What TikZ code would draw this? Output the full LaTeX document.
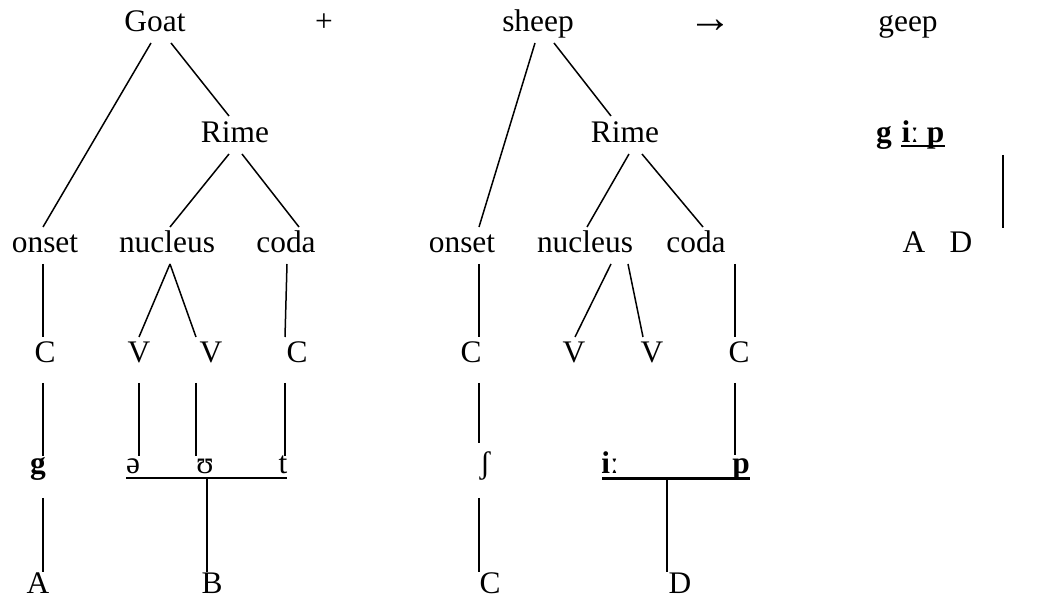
\documentclass[tikz,border=0pt]{standalone}
\usepackage{fontspec}
\setmainfont{Liberation Serif}
\usetikzlibrary{calc}
\newcommand\tfs{\fontsize{15.7}{19}\selectfont}
\tikzset{
  lbl/.style={anchor=base, inner sep=0pt, font=\tfs},
  blbl/.style={lbl, font=\tfs\bfseries},
  ln/.style={line width=0.75pt},
  thickln/.style={line width=1.5pt},
}
\begin{document}
\begin{tikzpicture}[x=0.5pt, y=-0.5pt]
\useasboundingbox (0,0) rectangle (1061,598);
% top row
\node[lbl] (goat) at (155,32) {Goat};
\node[lbl] (plus) at (324,32) {+};
\node[lbl] (sheep) at (538,32) {sheep};
\node[lbl, font=\fontsize{22}{26}\selectfont] (arrow) at (710,33) {→};
\node[lbl] (geep) at (908,32) {geep};
% left tree
\node[lbl] (rime1) at (235,143) {Rime};
\node[lbl] (onset1) at (45,253) {onset};
\node[lbl] (nucleus1) at (167,253) {nucleus};
\node[lbl] (coda1) at (286,253) {coda};
\node[lbl] (C1) at (45,363) {C};
\node[lbl] (V1) at (139,363) {V};
\node[lbl] (V2) at (211,363) {V};
\node[lbl] (C2) at (297,363) {C};
\node[blbl] (g) at (38,474) {g};
\node[lbl] (schwa) at (133,474) {ə};
\node[lbl] (ups) at (205,474) {ʊ};
\node[lbl] (t) at (283,474) {t};
\node[lbl] (A) at (38,594) {A};
\node[lbl] (B) at (212,594) {B};
% right tree
\node[lbl] (rime2) at (625,143) {Rime};
\node[lbl] (onset2) at (462,253) {onset};
\node[lbl] (nucleus2) at (585,253) {nucleus};
\node[lbl] (coda2) at (696,253) {coda};
\node[lbl] (C3) at (471,363) {C};
\node[lbl] (V3) at (574,363) {V};
\node[lbl] (V4) at (652,363) {V};
\node[lbl] (C4) at (739,363) {C};
\node[lbl] (esh) at (485,474) {ʃ};
\node[blbl] (ii) at (610,474) {iː};
\node[blbl] (p) at (741,474) {p};
\node[lbl] (C5) at (490,594) {C};
\node[lbl] (D) at (680,594) {D};
% far right
\node[blbl] (gg) at (884,143) {g};
\node[blbl] (ip) at (923,143) {iː p};
\node[lbl] (A2) at (914,253) {A};
\node[lbl] (D2) at (961,253) {D};
\coordinate (bartop) at (1003,155);
\coordinate (barbot) at (1003,228);

% left tree connectors
\draw[ln] ($(goat.base)+(-4,11)$) -- ($(onset1.base)+(-2,-26)$);
\draw[ln] ($(goat.base)+(16,11)$) -- ($(rime1.base)+(-6,-27)$);
\draw[ln] ($(rime1.base)+(-6,11)$) -- ($(nucleus1.base)+(3,-26)$);
\draw[ln] ($(rime1.base)+(7,11)$) -- ($(coda1.base)+(13,-26)$);
\draw[ln] ($(onset1.base)+(-2,11)$) -- ($(C1.base)+(-2,-26)$);
\draw[ln] ($(nucleus1.base)+(3,11)$) -- ($(V1.base)+(0,-26)$);
\draw[ln] ($(nucleus1.base)+(3,11)$) -- ($(V2.base)+(-15,-26)$);
\draw[ln] ($(coda1.base)+(1,11)$) -- ($(C2.base)+(-12,-26)$);
\draw[ln] ($(C1.base)+(-2,20)$) -- ($(g.base)+(5,-18)$);
\draw[ln] ($(V1.base)+(0,20)$) -- ($(schwa.base)+(6,-18)$);
\draw[ln] ($(V2.base)+(-15,20)$) -- ($(ups.base)+(-9,-18)$);
\draw[ln] ($(C2.base)+(-12,20)$) -- ($(t.base)+(2,-18)$);
\draw[ln] ($(g.base)+(5,24)$) -- ($(A.base)+(5,-22)$);
\draw[ln] ($(schwa.base)+(-7,4)$) -- ($(t.base)+(4,4)$);
\draw[ln] ($(ups.base)+(2,5)$) -- ($(B.base)+(-5,-22)$);

% right tree connectors
\draw[ln] ($(sheep.base)+(-3,11)$) -- ($(onset2.base)+(17,-26)$);
\draw[ln] ($(sheep.base)+(16,11)$) -- ($(rime2.base)+(-14,-27)$);
\draw[ln] ($(rime2.base)+(4,11)$) -- ($(nucleus2.base)+(2,-26)$);
\draw[ln] ($(rime2.base)+(17,11)$) -- ($(coda2.base)+(7,-26)$);
\draw[ln] ($(onset2.base)+(17,11)$) -- ($(C3.base)+(8,-26)$);
\draw[ln] ($(nucleus2.base)+(26,11)$) -- ($(V3.base)+(1,-26)$);
\draw[ln] ($(nucleus2.base)+(43,11)$) -- ($(V4.base)+(-9,-26)$);
\draw[ln] ($(coda2.base)+(39,11)$) -- ($(C4.base)+(-4,-26)$);
\draw[ln] ($(C3.base)+(8,20)$) -- ($(esh.base)+(-6,-31)$);
\draw[ln] ($(C4.base)+(-4,20)$) -- ($(p.base)+(-6,-19)$);
\draw[ln] ($(esh.base)+(-6,24)$) -- ($(C5.base)+(-11,-22)$);
\draw[thickln] ($(ii.base)+(-8,5)$) -- ($(p.base)+(9,5)$);
\draw[ln] ($(ii.base)+(57,6)$) -- ($(D.base)+(-13,-22)$);

% far right
\draw[line width=1pt] ($(ip.base)+(-22,3)$) -- ($(ip.base)+(22,3)$);
\draw[ln] (bartop) -- (barbot);
\end{tikzpicture}
\end{document}
